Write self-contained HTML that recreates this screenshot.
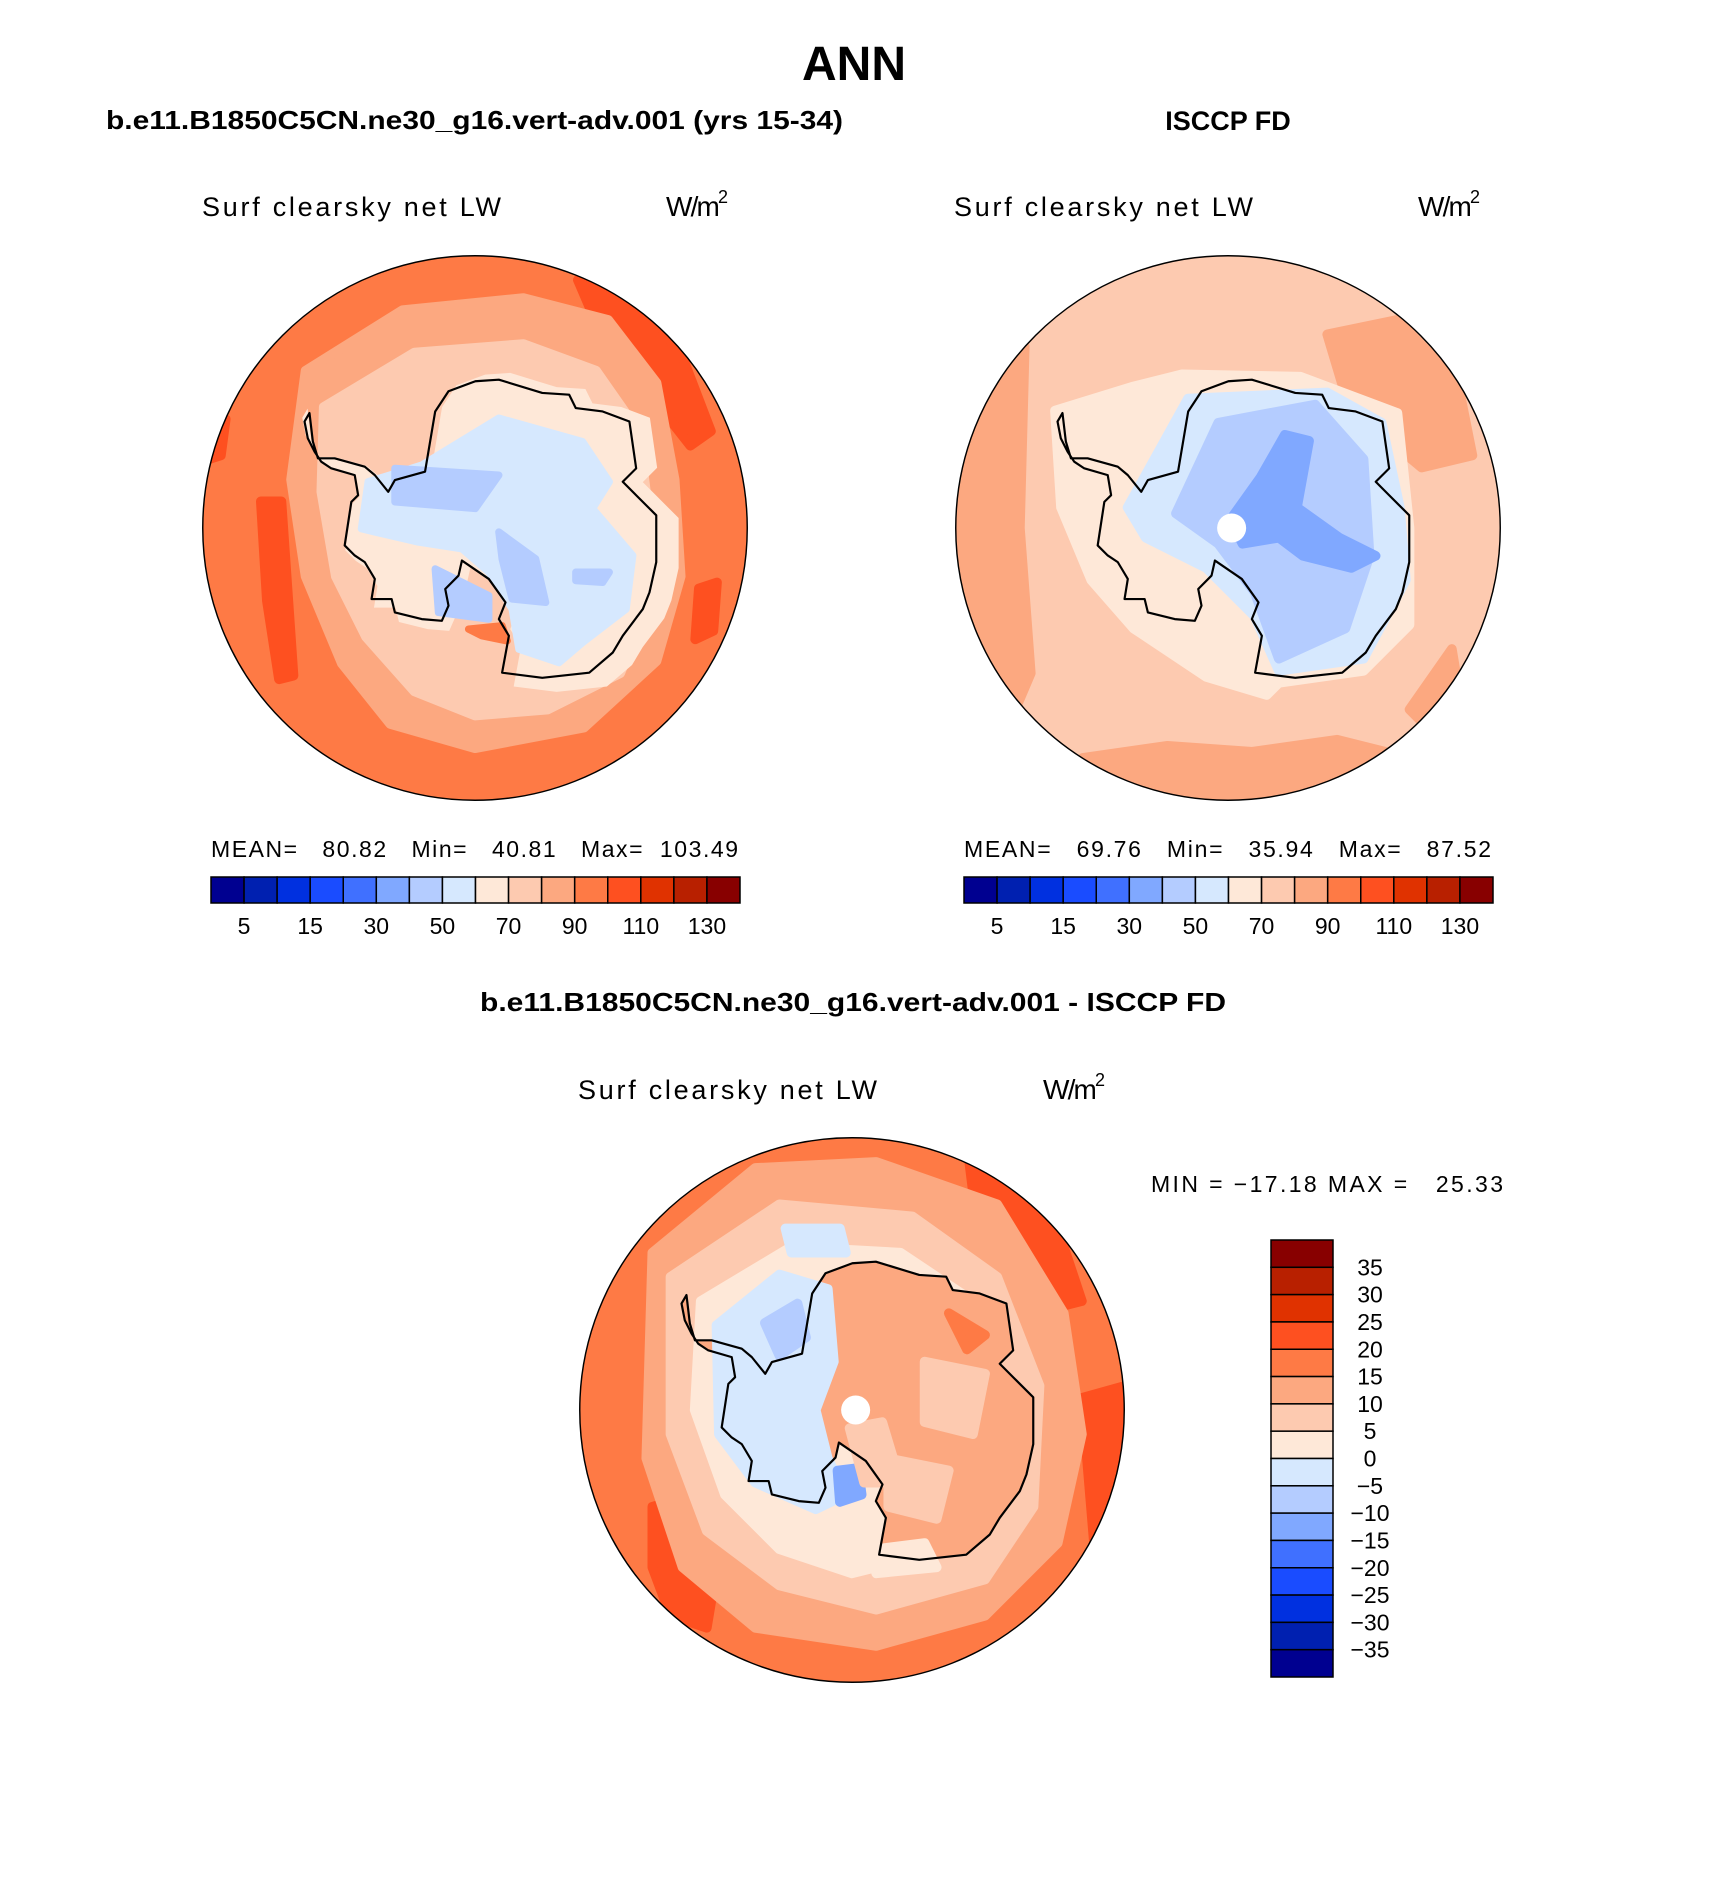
<!DOCTYPE html>
<html><head><meta charset="utf-8">
<style>
html,body{margin:0;padding:0;background:#fff;}
svg{display:block;}
text{font-family:"Liberation Sans",sans-serif;fill:#000;}
</style></head>
<body>
<svg id="fig" width="1710" height="1897" viewBox="0 0 1710 1897" xmlns="http://www.w3.org/2000/svg">
<defs>
<clipPath id="clipL"><circle cx="0" cy="0" r="225"/></clipPath>
</defs>
<text x="854" y="80" font-size="48" font-weight="bold" text-anchor="middle">ANN</text>
<text x="106" y="129" font-size="26" font-weight="bold" textLength="737" lengthAdjust="spacingAndGlyphs">b.e11.B1850C5CN.ne30_g16.vert-adv.001 (yrs 15-34)</text>
<text x="1228" y="130" font-size="27" font-weight="bold" text-anchor="middle">ISCCP FD</text>
<text x="853" y="1011" font-size="26" font-weight="bold" text-anchor="middle" textLength="746" lengthAdjust="spacingAndGlyphs">b.e11.B1850C5CN.ne30_g16.vert-adv.001 - ISCCP FD</text>

<text x="202" y="216" font-size="27" textLength="299" lengthAdjust="spacing">Surf clearsky net LW</text>
<text x="666" y="216" font-size="28" textLength="62" lengthAdjust="spacing">W/m<tspan font-size="18" dy="-13">2</tspan></text>
<text x="954" y="216" font-size="27" textLength="299" lengthAdjust="spacing">Surf clearsky net LW</text>
<text x="1418" y="216" font-size="28" textLength="62" lengthAdjust="spacing">W/m<tspan font-size="18" dy="-13">2</tspan></text>
<text x="578" y="1099" font-size="27" textLength="299" lengthAdjust="spacing">Surf clearsky net LW</text>
<text x="1043" y="1099" font-size="28" textLength="62" lengthAdjust="spacing">W/m<tspan font-size="18" dy="-13">2</tspan></text>

<text x="211" y="857" font-size="23" textLength="527" lengthAdjust="spacing" xml:space="preserve">MEAN=   80.82   Min=   40.81   Max=  103.49</text>
<text x="964" y="857" font-size="23" textLength="527" lengthAdjust="spacing" xml:space="preserve">MEAN=   69.76   Min=   35.94   Max=   87.52</text>
<text x="1151" y="1192" font-size="23" textLength="352" lengthAdjust="spacing" xml:space="preserve">MIN = −17.18 MAX =   25.33</text>

<g id="maps"></g>
<g id="bars"></g>
</svg>
<script>
// ---- colour bar data ----
const absColors = ["#000090","#0020b0","#0030e0","#1a4cff","#4070ff","#80a8ff","#b4ccff","#d6e8fe","#fee8d8","#fdcab0","#fca880","#fe7a45","#fe5020","#e03200","#b82000","#880000"];
const absTickLabels = ["5","15","30","50","70","90","110","130"];
const diffColors = ["#880000","#b82000","#e03200","#fe5020","#fe7a45","#fca880","#fdcab0","#fee8d8","#d6e8fe","#b4ccff","#80a8ff","#4070ff","#1a4cff","#0030e0","#0020b0","#000090"];
const diffTickLabels = ["35","30","25","20","15","10","5","0","\u22125","\u221210","\u221215","\u221220","\u221225","\u221230","\u221235"];

const NS="http://www.w3.org/2000/svg";
function mk(tag,attrs,parent){const e=document.createElementNS(NS,tag);for(const k in attrs)e.setAttribute(k,attrs[k]);parent.appendChild(e);return e;}
const bars=document.getElementById('bars');

function hBar(x0,y0,w,h,name){
  const g=mk('g',{},bars);
  
  
  const bw=w/absColors.length;
  absColors.forEach((c,i)=>{
    const r=mk('rect',{x:x0+i*bw,y:y0,width:bw,height:h,fill:c,stroke:'#000','stroke-width':1.5},g);
    
    
  });
  absTickLabels.forEach((t,i)=>{
    const tx=mk('text',{x:x0+(2*i+1)*bw,y:y0+57,'font-size':23,'text-anchor':'middle'},g);
    
    
    tx.textContent=t;
  });
}
hBar(211,877,529,26,'left-colorbar');
hBar(964,877,529,26,'right-colorbar');

(function(){
  const x0=1271,y0=1240,w=62,h=437;
  const g=mk('g',{},bars);
  
  
  const bh=h/diffColors.length;
  diffColors.forEach((c,i)=>{
    const r=mk('rect',{x:x0,y:y0+i*bh,width:w,height:bh,fill:c,stroke:'#000','stroke-width':1.5},g);
    
    
  });
  diffTickLabels.forEach((t,i)=>{
    const tx=mk('text',{x:x0+w+37,y:y0+(i+1)*bh+8,'font-size':23,'text-anchor':'middle'},g);
    
    
    tx.textContent=t;
  });
})();

// ---- maps ----
const coast=[[385,215],[395,300],[410,350],[460,350],[550,375],[580,400],[620,450],[640,415],[730,390],[760,210],[800,150],[880,120],[950,115],[1080,155],[1160,160],[1180,200],[1260,210],[1340,240],[1360,380],[1320,420],[1360,460],[1420,520],[1420,660],[1400,750],[1380,800],[1320,880],[1290,930],[1220,990],[1080,1005],[960,990],[980,880],[950,830],[970,780],[920,710],[840,655],[830,700],[790,740],[800,790],[780,835],[720,830],[640,810],[630,770],[570,770],[580,710],[550,660],[520,640],[490,610],[510,480],[530,460],[520,400],[450,380],[420,360],[400,330],[380,290],[370,240]];
function zp(p){return[((p[0]/3-293)/1.204).toFixed(1),((p[1]/3-186)/1.204).toFixed(1)];}
function ptsZ(arr){return arr.map(p=>zp(p).join(',')).join(' ');}
function pts(arr){return arr.map(p=>p.join(',')).join(' ');}
const coastPts=ptsZ(coast);

function map(cx,cy,name,layers,dot){
  const g=mk('g',{transform:`translate(${cx},${cy}) scale(1.21)`},document.getElementById('maps'));
  
  
  const c=mk('g',{'clip-path':'url(#clipL)'},g);
  layers.forEach(L=>{
    let el;
    if(L.coast) el=mk('polygon',{points:coastPts,fill:L.c,transform:L.t||''},c);
    else if(L.z) el=mk('polygon',{points:ptsZ(L.p),fill:L.c,'stroke-linejoin':'round',stroke:L.c,'stroke-width':6},c);
    else el=mk('polygon',{points:pts(L.p),fill:L.c,'stroke-linejoin':'round',stroke:L.c,'stroke-width':8},c);
    
    
  });
  const cl=mk('polygon',{points:coastPts,fill:'none',stroke:'#000','stroke-width':1.8,'stroke-linejoin':'round'},g);
  
  
  if(dot){const d=mk('circle',{cx:3,cy:0,r:12,fill:'#fff'},g);
    }
  const b=mk('circle',{cx:0,cy:0,r:225,fill:'none',stroke:'#000','stroke-width':1.2},g);
  
  
}
const C={d1:"#000090",b1:"#80a8ff",b2:"#b4ccff",b3:"#d6e8fe",r1:"#fee8d8",r2:"#fdcab0",r3:"#fca880",r4:"#fe7a45",r5:"#fe5020",r6:"#e03200",b4:"#4070ff"};

map(475,528,'model-map',[
  {p:[[-230,-230],[230,-230],[230,230],[-230,230]],c:C.r4},
  {p:[[-177,-22],[-160,-22],[-155,50],[-150,122],[-162,125],[-172,60]],c:C.r5},
  {p:[[85,-205],[120,-212],[172,-140],[195,-80],[178,-68],[145,-110],[100,-170]],c:C.r5},
  {p:[[185,50],[200,45],[197,85],[182,92]],c:C.r5},
  {p:[[-226,-85],[-206,-90],[-210,-60],[-226,-55]],c:C.r5},
  {p:[[-140,-130],[-60,-180],[40,-190],[110,-172],[150,-120],[165,-40],[170,40],[150,110],[90,165],[0,182],[-70,162],[-110,112],[-140,40],[-152,-40]],c:C.r3},
  {p:[[-125,-100],[-50,-145],[40,-152],[100,-130],[135,-80],[145,0],[145,60],[120,120],[60,150],[0,155],[-50,135],[-90,90],[-115,40],[-127,-30]],c:C.r2},
  {coast:true,c:C.r1,t:'translate(8,3) scale(1.07)'},
  {z:true,p:[[540,560],[560,420],[720,370],[950,230],[1200,300],[1280,420],[1230,500],[1350,640],[1330,800],[1200,900],[1130,960],[1010,920],[990,800],[920,690],[840,620],[710,600],[580,570]],c:C.b3},
  {z:true,p:[[640,380],[950,400],[880,500],[640,480]],c:C.b2},
  {z:true,p:[[950,570],[1060,650],[1090,780],[990,770],[960,650]],c:C.b2},
  {z:true,p:[[760,680],[920,760],[920,830],[770,810]],c:C.b2},
  {z:true,p:[[1180,690],[1280,690],[1260,720],[1180,715]],c:C.b2},
  {z:true,p:[[860,860],[960,850],[975,895],[900,880]],c:C.r4}
],false);

map(1228,528,'obs-map',[
  {p:[[-230,-230],[230,-230],[230,230],[-230,230]],c:C.r2},
  {p:[[-230,-130],[-168,-150],[-172,0],[-163,120],[-180,160],[-230,100]],c:C.r3},
  {p:[[82,-160],[140,-172],[190,-120],[202,-60],[160,-50],[100,-100]],c:C.r3},
  {p:[[-120,190],[-50,180],[20,185],[90,175],[130,185],[80,235],[-80,235]],c:C.r3},
  {p:[[150,150],[185,100],[190,130],[160,160]],c:C.r3},
  {p:[[-143,-97],[-78,-117],[-38,-127],[60,-125],[140,-95],[150,0],[150,80],[112,118],[42,128],[32,138],[-18,123],[-78,83],[-113,43],[-138,-17]],c:C.r1},
  {p:[[-83,-17],[-33,-107],[82,-112],[127,-87],[142,-17],[147,43],[112,108],[42,118],[22,73],[-18,33],[-68,8]],c:C.b3},
  {p:[[-43,-12],[-8,-87],[72,-102],[112,-57],[117,23],[97,83],[42,108],[22,53],[-8,13]],c:C.b2},
  {p:[[2,-7],[27,-42],[47,-77],[67,-72],[57,-17],[92,8],[122,23],[102,33],[62,23],[42,8],[12,13]],c:C.b1}
],true);

map(852,1410,'difference-map',[
  {p:[[-230,-230],[230,-230],[230,230],[-230,230]],c:C.r4},
  {p:[[95,-220],[130,-215],[170,-150],[190,-90],[170,-85],[140,-130],[100,-180]],c:C.r5},
  {p:[[-165,80],[-130,70],[-110,120],[-120,180],[-150,170],[-165,130]],c:C.r5},
  {p:[[190,-10],[226,-20],[226,120],[200,110]],c:C.r5},
  {p:[[-165,-130],[-80,-200],[20,-205],[120,-170],[175,-80],[190,20],[170,110],[110,170],[20,195],[-80,180],[-140,130],[-170,40]],c:C.r3},
  {p:[[-150,-110],[-60,-170],[50,-160],[120,-110],[155,-20],[150,80],[110,140],[20,165],[-60,145],[-120,100],[-150,20]],c:C.r2},
  {p:[[-125,-90],[-50,-135],[40,-130],[100,-90],[130,-10],[120,70],[80,115],[0,135],[-60,115],[-105,70],[-130,0]],c:C.r1},
  {coast:true,c:C.r3},
  {p:[[-112,-70],[-60,-112],[-20,-100],[-15,-40],[-30,0],[-20,40],[-5,70],[-30,82],[-80,60],[-110,20]],c:C.b3},
  {p:[[-55,-150],[-10,-150],[-5,-130],[-50,-130]],c:C.b3},
  {p:[[-72,-72],[-45,-88],[-38,-60],[-60,-45]],c:C.b2},
  {p:[[-12,50],[5,48],[8,70],[-10,76]],c:C.b1},
  {p:[[-2,15],[25,10],[40,60],[10,60]],c:C.r2},
  {p:[[60,-40],[110,-30],[100,20],[60,10]],c:C.r2},
  {p:[[30,40],[80,50],[70,90],[30,80]],c:C.r2},
  {p:[[80,-80],[110,-62],[95,-50]],c:C.r4},
  {p:[[20,115],[60,110],[70,130],[20,135]],c:C.r1}
],true);
</script>
</body></html>
